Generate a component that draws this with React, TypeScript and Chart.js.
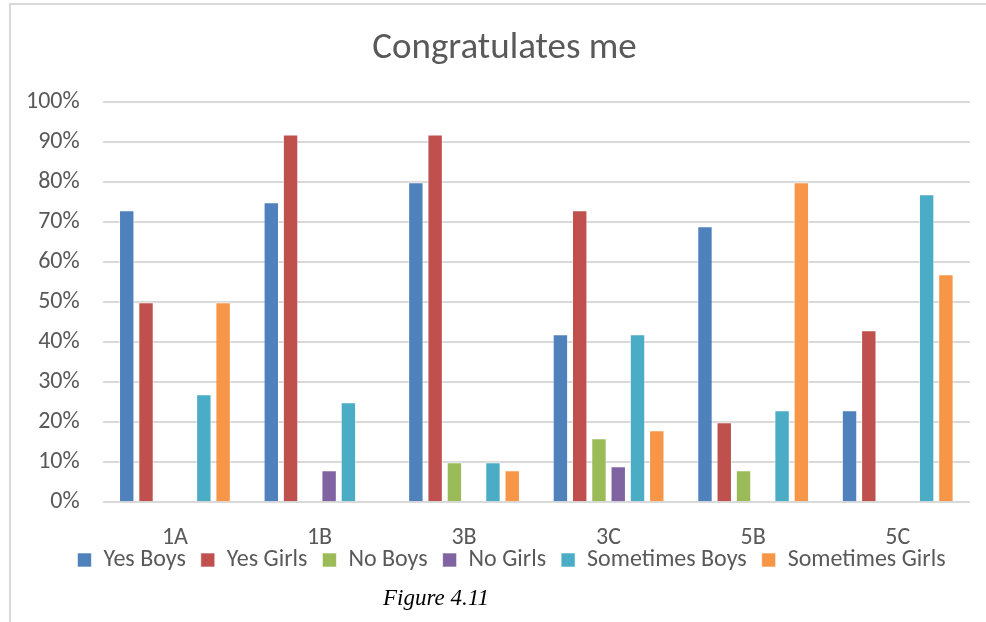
import React, { useEffect, useRef } from "react";
import { Chart, registerables } from "chart.js";

Chart.register(...registerables);

const categories = ["1A", "1B", "3B", "3C", "5B", "5C"];
const yesBoys = [73, 75, 80, 42, 69, 23];
const yesGirls = [50, 92, 92, 73, 20, 43];
const noBoys = [0, 0, 10, 16, 8, 0];
const noGirls = [0, 8, 0, 9, 0, 0];
const sometimesBoys = [27, 25, 10, 42, 23, 77];
const sometimesGirls = [50, 0, 8, 18, 80, 57];
const seriesNames = ["Yes Boys", "Yes Girls", "No Boys", "No Girls", "Sometimes Boys", "Sometimes Girls"];
const seriesColors = ["#4F81BD", "#C0504D", "#9BBB59", "#8064A2", "#4BACC6", "#F79646"];
const yTicks = [0, 10, 20, 30, 40, 50, 60, 70, 80, 90, 100];

const FONT = "Carlito, Calibri, 'Open Sans', sans-serif";
const LEGEND_DY = 40;
const LEGEND_DX = 25;
const TITLE_DX = 18;

const boxShift = {
  id: "boxShift",
  afterLayout(chart: any) {
    const lg = chart.legend;
    if (lg) {
      lg.top -= LEGEND_DY;
      lg.bottom -= LEGEND_DY;
      lg.left += LEGEND_DX;
      lg.right += LEGEND_DX;
    }
    const tb = chart.titleBlock;
    if (tb) {
      tb.left += TITLE_DX;
      tb.right += TITLE_DX;
    }
  },
};

export default function App() {
  const ref = useRef<HTMLCanvasElement | null>(null);
  useEffect(() => {
    if (!ref.current) return;
    const series = [yesBoys, yesGirls, noBoys, noGirls, sometimesBoys, sometimesGirls];
    const chart = new Chart(ref.current, {
      type: "bar",
      data: {
        labels: categories,
        datasets: series.map((d, i) => ({
          label: seriesNames[i],
          data: d,
          backgroundColor: seriesColors[i],
          borderColor: "rgba(255,255,255,0.6)",
          borderWidth: 1,
          categoryPercentage: 0.8,
          barPercentage: 0.8,
        })),
      },
      plugins: [boxShift],
      options: {
        animation: false,
        responsive: true,
        maintainAspectRatio: false,
        layout: { padding: { left: 3, right: 16, top: 0, bottom: 0 } },
        plugins: {
          title: {
            display: true,
            text: "Congratulates me",
            color: "#595959",
            font: { family: FONT, size: 37, weight: "normal" },
            padding: { top: 21, bottom: 31 },
          },
          legend: {
            position: "bottom",
            labels: {
              color: "#595959",
              font: { family: FONT, size: 24 },
              boxWidth: 14,
              boxHeight: 14,
              padding: 15,
            },
          },
          tooltip: { enabled: false },
        },
        scales: {
          x: {
            grid: { display: false, drawTicks: false },
            border: { display: false },
            ticks: { color: "#595959", font: { family: FONT, size: 24 }, padding: 21 },
          },
          y: {
            min: 0,
            max: 100,
            afterBuildTicks: (axis: any) => {
              axis.ticks = yTicks.map((v) => ({ value: v }));
            },
            grid: { color: "#d9d9d9", lineWidth: 2, drawTicks: false },
            border: { display: false },
            ticks: {
              color: "#595959",
              font: { family: FONT, size: 24 },
              padding: 23,
              callback: (v: any) => v + "%",
            },
          },
        },
      },
    });
    return () => chart.destroy();
  }, []);

  return (
    <div style={{ position: "absolute", left: 0, top: 0, width: 986, height: 622, background: "#fff", overflow: "hidden" }}>
      <div
        style={{
          position: "absolute",
          left: 9,
          top: 3,
          width: 977,
          height: 619,
          borderLeft: "2px solid #d9d9d9",
          borderTop: "2px solid #d9d9d9",
        }}
      />
      <div style={{ position: "absolute", left: 0, top: 6, width: 986, height: 616 }}>
        <canvas ref={ref} />
      </div>
      <div
        style={{
          position: "absolute",
          left: 383,
          top: 586,
          lineHeight: 1,
          fontFamily: "'Liberation Serif', 'Times New Roman', serif",
          fontStyle: "italic",
          fontSize: 23,
          color: "#000",
          whiteSpace: "nowrap",
        }}
      >
        Figure 4.11
      </div>
    </div>
  );
}
